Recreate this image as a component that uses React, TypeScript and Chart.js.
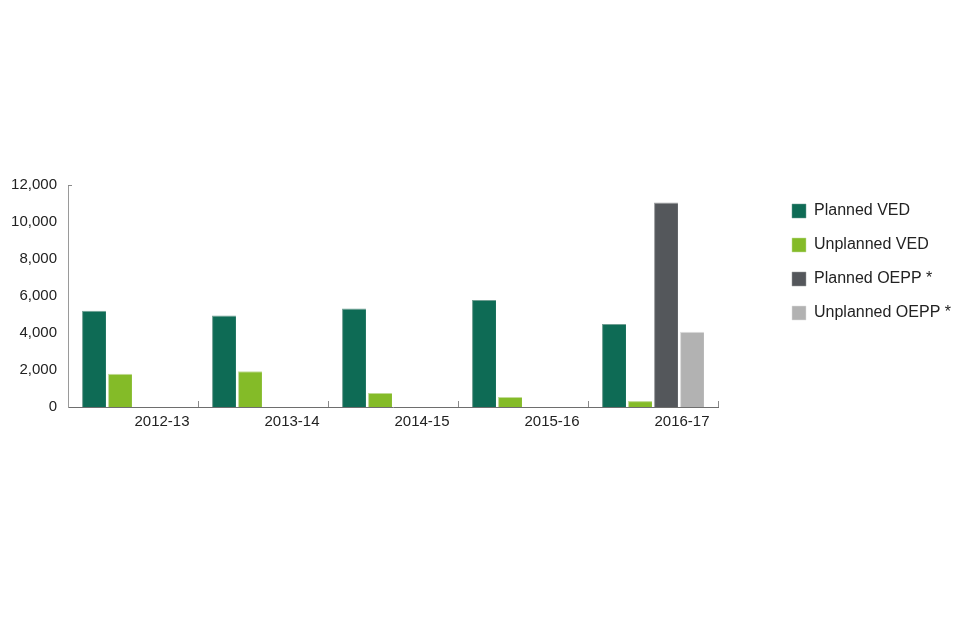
import React, { useEffect, useRef } from "react";
import { Chart, registerables } from "chart.js";

Chart.register(...registerables);

const categories = ["2012-13", "2013-14", "2014-15", "2015-16", "2016-17"];
const plannedVED = [5200, 4950, 5330, 5780, 4480];
const unplannedVED = [1800, 1930, 760, 540, 320];
const plannedOEPP = [null, null, null, null, 11060];
const unplannedOEPP = [null, null, null, null, 4070];
const yTicks = [0, 2000, 4000, 6000, 8000, 10000, 12000];

const FONT = "'Liberation Sans', Arial, Helvetica, sans-serif";

const upTicks = {
  id: "upTicks",
  afterDraw(chart: any) {
    const x = chart.scales.x;
    const area = chart.chartArea;
    const ctx = chart.ctx;
    ctx.save();
    ctx.strokeStyle = "#8a8a8a";
    ctx.lineWidth = 1;
    const n = categories.length;
    for (let i = 0; i < n; i++) {
      const a = x.getPixelForValue(i);
      const b = i + 1 < n ? x.getPixelForValue(i + 1) : a + (a - x.getPixelForValue(i - 1));
      const px = Math.round((a + b) / 2) + 0.5;
      ctx.beginPath();
      ctx.moveTo(px, area.bottom);
      ctx.lineTo(px, area.bottom - 6);
      ctx.stroke();
    }
    ctx.beginPath();
    ctx.moveTo(area.left, Math.round(area.top) + 0.5);
    ctx.lineTo(area.left + 4, Math.round(area.top) + 0.5);
    ctx.stroke();
    ctx.restore();
  },
};

export default function App() {
  const ref = useRef<HTMLCanvasElement>(null);
  useEffect(() => {
    const chart = new Chart(ref.current!, {
      type: "bar",
      data: {
        labels: categories,
        datasets: [
          { label: "Planned VED", data: plannedVED, backgroundColor: "#0e6b55", borderColor: "#6f9e92" },
          { label: "Unplanned VED", data: unplannedVED, backgroundColor: "#84bb28", borderColor: "#c3dc98" },
          { label: "Planned OEPP *", data: plannedOEPP as any, backgroundColor: "#54575b", borderColor: "#9a9c9e" },
          { label: "Unplanned OEPP *", data: unplannedOEPP as any, backgroundColor: "#b2b2b2", borderColor: "#dcdcdc" },
        ].map((d) => ({ ...d, borderWidth: { top: 1, left: 1, right: 0, bottom: 0 } as any, categoryPercentage: 0.8, barPercentage: 0.92 })),
      },
      options: {
        animation: false,
        responsive: false,
        maintainAspectRatio: false,
        layout: { padding: { top: 185, bottom: 203, left: 0, right: 0 } },
        plugins: {
          tooltip: { enabled: false },
          legend: {
            position: "right",
            align: "start",
            fullSize: false,
            maxWidth: 186,
            labels: {
              boxWidth: 14,
              boxHeight: 14,
              padding: 18,
              color: "#222",
              font: { family: FONT, size: 16 },
            },
          },
        },
        scales: {
          x: {
            grid: { display: false, offset: true, drawTicks: false },
            border: { display: true, color: "#6e6e6e", width: 1 },
            ticks: { color: "#222", font: { family: FONT, size: 15 }, padding: 6, labelOffset: 29, maxRotation: 0 },
          },
          y: {
            min: 0,
            max: 12000,
            afterBuildTicks: (s: any) => {
              s.ticks = yTicks.map((v) => ({ value: v }));
            },
            afterFit: (s: any) => {
              s.width = 68;
            },
            grid: { display: false, drawTicks: false },
            border: { display: true, color: "#9a9a9a", width: 1 },
            ticks: {
              color: "#222",
              padding: 11,
              font: { family: FONT, size: 15 },
              callback: (v: any) => Number(v).toLocaleString("en-US"),
            },
          },
          yR: {
            position: "right",
            display: true,
            grid: { display: false, drawTicks: false },
            border: { display: false },
            ticks: { display: false },
            afterFit: (s: any) => {
              s.width = 56;
            },
          },
        },
      },
      plugins: [upTicks],
    });
    return () => chart.destroy();
  }, []);
  return (
    <div style={{ position: "fixed", left: 0, top: 0, width: 960, height: 640, background: "#fff" }}>
      <canvas ref={ref} width={960} height={640} style={{ width: 960, height: 640 }} />
    </div>
  );
}
